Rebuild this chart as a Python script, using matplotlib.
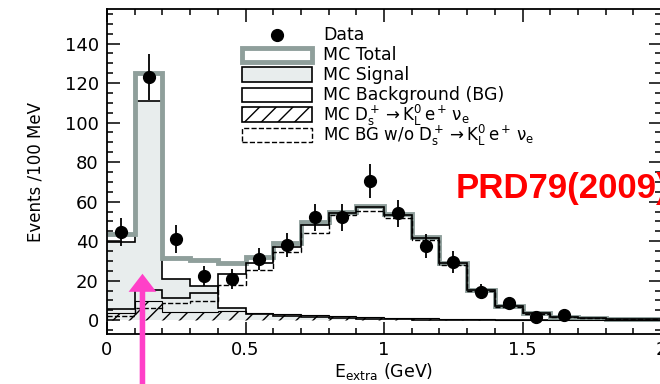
"""
E_extra distribution: data vs MC (signal, background, Ds -> KL e nu)
values read off the published plot
"""
import matplotlib
matplotlib.use('Agg')
import matplotlib.pyplot as plt
from matplotlib.patches import Rectangle
from matplotlib.ticker import MultipleLocator

plt.rcParams['font.family'] = ['DejaVu Sans']
plt.rcParams['mathtext.default'] = 'regular'
plt.rcParams['hatch.linewidth'] = 1.0

# bin edges (GeV), 100 MeV bins
edges = [0.0, 0.1, 0.2, 0.3, 0.4, 0.5, 0.6, 0.7, 0.8, 0.9, 1.0,
         1.1, 1.2, 1.3, 1.4, 1.5, 1.6, 1.7, 1.8, 1.9, 2.0]

mc_total = [43.5, 125, 31.5, 30.5, 29, 32, 39, 49.5, 55, 58, 53.5,
            42, 29, 15.5, 7, 3.5, 1.7, 1.0, 0.8, 0.6]
mc_signal = [39.5, 111, 20.7, 17.5, 6, 3, 2, 1.5, 1, 0.8, 0.5,
             0.3, 0.2, 0.1, 0, 0, 0, 0, 0, 0]
mc_bg = [5.5, 15.5, 11, 13.5, 23.5, 29, 37, 48, 54, 57.5, 53,
         41.5, 29, 15.5, 7, 3.5, 1.7, 1.0, 0.8, 0.6]
mc_kl = [3.5, 9.5, 4, 4, 4.5, 3.5, 3, 2.5, 2, 1.5, 1.2,
         1, 0.8, 0.5, 0.3, 0.2, 0.1, 0.1, 0.1, 0.1]
mc_bg_wo = [2, 6, 8.5, 9.5, 17.7, 25.5, 34.5, 44, 53, 55.5, 51.5,
            40.5, 28, 15, 6.7, 3.3, 1.5, 0.9, 0.7, 0.5]

data_x = [0.05, 0.15, 0.25, 0.35, 0.45, 0.55, 0.65, 0.75, 0.85,
          0.95, 1.05, 1.15, 1.25, 1.35, 1.45, 1.55, 1.65]
data_y = [44.5, 123, 41, 22.5, 21, 31, 38, 52, 52,
          70.5, 54, 37.5, 29.5, 14.5, 8.5, 1.5, 2.5]
data_err = [7, 11.5, 7, 5, 5, 5.5, 6, 7, 7,
            8.5, 7, 6, 5.5, 4, 3, 1.2, 1.5]

legend_labels = ['Data', 'MC Total', 'MC Signal', 'MC Background (BG)',
                 r'MC $D_s^+ \rightarrow K_L^0\,e^+\,\nu_e$',
                 r'MC BG w/o $D_s^+ \rightarrow K_L^0\,e^+\,\nu_e$']
legend_sizes = [12.5, 12.5, 12.5, 12.5, 12, 12]

fill_grey = '#e8eded'
total_grey = '#8f9f9b'

fig = plt.figure(figsize=(6.6, 3.84), dpi=100)
ax = fig.add_axes([107/660, 50/384, 554/660, 325/384])

# histograms
ax.stairs(mc_signal, edges, fill=True, facecolor=fill_grey, lw=0, zorder=1)
ax.stairs(mc_signal, edges, color='k', lw=1.2, baseline=None, zorder=2)
ax.stairs(mc_total, edges, color=total_grey, lw=3.5, baseline=None, zorder=2)
ax.stairs(mc_bg, edges, color='k', lw=1.2, baseline=None, zorder=3)
ax.stairs(mc_kl, edges, fill=True, facecolor='none', edgecolor='k',
          hatch='//', lw=0.8, zorder=3)
ax.stairs(mc_bg_wo, edges, color='k', lw=1.0, ls='--', baseline=None, zorder=3)

# data
ax.errorbar(data_x, data_y, yerr=data_err, fmt='o', color='k', ms=8.5,
            elinewidth=1.3, capsize=0, zorder=5)

ax.set_xlim(0, 2)
ax.set_ylim(-7, 157.5)
ax.set_xticks([0, 0.5, 1, 1.5, 2])
ax.set_xticklabels(['0', '0.5', '1', '1.5', '2'])
ax.xaxis.set_minor_locator(MultipleLocator(0.1))
ax.yaxis.set_major_locator(MultipleLocator(20))
ax.yaxis.set_minor_locator(MultipleLocator(5))
ax.tick_params(which='both', direction='in', top=True, right=True,
               labelsize=13, width=1.1)
ax.tick_params(which='major', length=9)
ax.tick_params(which='minor', length=4.5)
ax.tick_params(axis='x', pad=5)
ax.tick_params(axis='y', pad=6)
for s in ax.spines.values():
    s.set_linewidth(1.3)

ax.set_ylabel('Events /100 MeV', fontsize=12)
ax.yaxis.set_label_coords(-0.112, 0.5)
ax.set_xlabel('E$_{extra}$ (GeV)', fontsize=12.5)
ax.xaxis.set_label_coords(0.5, -0.083)

# legend, drawn by hand to keep the tight row spacing
rows = [0.92, 0.8585, 0.797, 0.7354, 0.674, 0.6123]
hx, hw, hh = 0.2437, 0.1264, 0.046
ax.plot(hx + hw/2, rows[0], 'o', color='k', ms=8.5, transform=ax.transAxes)
styles = [dict(facecolor='white', edgecolor=total_grey, lw=3.5),
          dict(facecolor=fill_grey, edgecolor='k', lw=1.2),
          dict(facecolor='white', edgecolor='k', lw=1.2),
          dict(facecolor='white', edgecolor='k', lw=1.2, hatch='//'),
          dict(facecolor='white', edgecolor='k', lw=1.0, ls='--')]
for y, st in zip(rows[1:], styles):
    ax.add_patch(Rectangle((hx, y - hh/2), hw, hh, transform=ax.transAxes,
                           zorder=6, **st))
for y, lab, fs in zip(rows, legend_labels, legend_sizes):
    ax.text(0.39, y, lab, transform=ax.transAxes, fontsize=fs, va='center')

# arrow marking the signal bin
ax.annotate('', xy=(0.128, 23.5), xytext=(0.128, -0.05),
            textcoords=('data', 'figure fraction'),
            arrowprops=dict(arrowstyle='simple,head_width=2.0,head_length=1.3,tail_width=0.4',
                            mutation_scale=10, color='#ff40c8', lw=0,
                            shrinkA=0, shrinkB=0),
            annotation_clip=False, zorder=10)

fig.text(456/660, 1 - 198/384, 'PRD79(2009)', color='#ff0000', fontsize=25,
         fontweight='bold', family='Liberation Sans', va='baseline')

fig.savefig('out.png', dpi=100)
